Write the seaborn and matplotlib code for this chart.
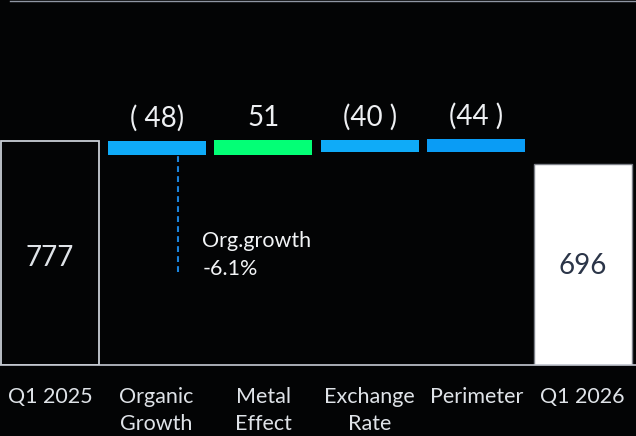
import matplotlib
matplotlib.use("Agg")
import matplotlib.pyplot as plt
import pandas as pd
import seaborn as sns

# 数据
categories = ["Q1 2025", "Organic\nGrowth", "Metal\nEffect", "Exchange\nRate", "Perimeter", "Q1 2026"]
totals = [777, 696]
total_labels = ["777", "696"]
bridge_values = [-48, 51, -40, -44]
bridge_labels = ["( 48)", "51", "(40 )", "(44 )"]
bridge_base = [729, 729, 740, 740]  # lower edge of each floating bar as drawn in the chart
bridge_colors = ["#0FABF8", "#03FF76", "#0FABF8", "#0A9CF5"]
note_text = "Org.growth\n-6.1%"

bg = "#030405"
axis_col = "#c5cad3"

sns.set_theme(style="dark")
plt.rcParams['font.family'] = ['Lato', 'DejaVu Sans']

fig = plt.figure(figsize=(6.36, 4.36), dpi=100, facecolor=bg)
ax = fig.add_axes([0, 0.1628, 1, 0.834])
ax.set_facecolor(bg)

# 起止总量柱
df_tot = pd.DataFrame({"step": [categories[0], categories[-1]], "value": totals})
sns.barplot(data=df_tot, x="step", y="value", order=categories, width=0.92,
            color="white", ax=ax)
ax.patches[0].set_facecolor(bg)
ax.patches[0].set_edgecolor("#c9ced6")
ax.patches[0].set_linewidth(1.3)
ax.patches[1].set_facecolor("white")
ax.patches[1].set_edgecolor("#7d8088")
ax.patches[1].set_linewidth(1.0)

# 中间的变动柱
pos = list(range(1, len(bridge_values) + 1))
heights = [abs(v) for v in bridge_values]
ax.bar(pos, heights, bottom=bridge_base, width=0.92, color=bridge_colors, linewidth=0)

for p, b, h, lab in zip(pos, bridge_base, heights, bridge_labels):
    ax.annotate(lab, (p, b + h), xytext=(0, 10), textcoords="offset points",
                ha="center", va="baseline", fontsize=20, color="#eef0f3")

ax.text(0, totals[0] * 0.478, total_labels[0], ha="center", va="center",
        fontsize=20, color="#dfe3e8")
ax.text(5, totals[1] * 0.493, total_labels[1], ha="center", va="center",
        fontsize=20, color="#2b3548")

# 有机增长注释
ax.vlines(1.2, 323, bridge_base[0], colors="#1a84dc", linestyles=(0, (2.8, 2)), linewidth=1.5)
ax.text(1.43, 464, note_text, ha="left", va="top", fontsize=15.5,
        color="#f2f4f6", linespacing=1.5)

# 坐标轴
ax.set_xlim(-0.47, 5.5)
ax.set_ylim(0, 1261)
ax.set_xlabel("")
ax.set_ylabel("")
ax.set_yticks([])
ax.set_xticks(range(len(categories)))
ax.set_xticklabels(categories, fontsize=15.5, color="#dfe3e8", linespacing=1.4)
ax.tick_params(axis="x", which="major", length=0, pad=16)
ax.set_xticks([i + 0.5 for i in range(len(categories) - 1)], minor=True)
ax.tick_params(axis="x", which="minor", length=5, width=1, color=axis_col, direction="out")
ax.grid(False)

for side in ["left", "right"]:
    ax.spines[side].set_visible(False)
ax.spines["bottom"].set_color(axis_col)
ax.spines["bottom"].set_linewidth(1.2)
ax.spines["top"].set_color("#8f96a3")
ax.spines["top"].set_linewidth(1.0)
ax.spines["top"].set_bounds(-0.38, 5.5)

plt.savefig("out.png", dpi=100, facecolor=bg)
